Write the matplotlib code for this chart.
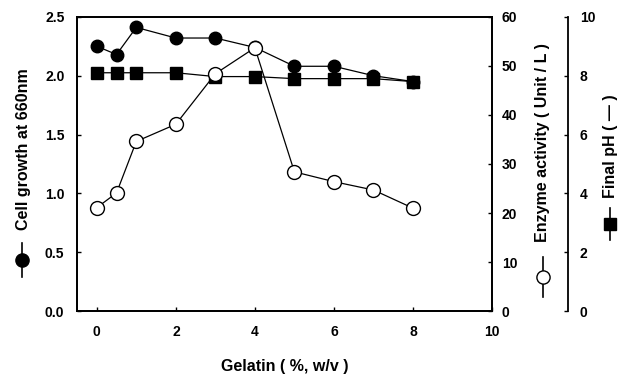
import matplotlib
matplotlib.use("Agg")
import matplotlib.pyplot as plt
from matplotlib.lines import Line2D

plt.rcParams['font.family'] = ['Liberation Sans', 'DejaVu Sans']
plt.rcParams['font.weight'] = 'bold'

gelatin = [0, 0.5, 1, 2, 3, 4, 5, 6, 7, 8]
cell_growth = [2.25, 2.18, 2.41, 2.32, 2.32, 2.24, 2.08, 2.08, 2.0, 1.95]
enzyme = [21.1, 24.1, 34.6, 38.1, 48.4, 53.7, 28.4, 26.4, 24.7, 21.0]
final_ph = [8.1, 8.1, 8.1, 8.1, 7.97, 7.97, 7.9, 7.9, 7.9, 7.8]

fig = plt.figure(figsize=(6.26, 3.74), dpi=100)
ax = fig.add_axes([0.123, 0.168, 0.663, 0.787])
ax_ph = ax.twinx()
ax_enz = ax.twinx()

ax.plot(gelatin, cell_growth, color='black', lw=0.9, marker='o', ms=9,
        mfc='black', mec='black')
ax_ph.plot(gelatin, final_ph, color='black', lw=0.9, marker='s', ms=9,
           mfc='black', mec='black')
ax_enz.plot(gelatin, enzyme, color='black', lw=0.9, marker='o', ms=10,
            mfc='white', mec='black', mew=1.0)

ax.set_xlim(-0.5, 10)
ax.set_ylim(0, 2.5)
ax.set_xticks([0, 2, 4, 6, 8, 10])
ax.set_yticks([0.0, 0.5, 1.0, 1.5, 2.0, 2.5])
ax.set_yticklabels(['0.0', '0.5', '1.0', '1.5', '2.0', '2.5'])
ax_enz.set_ylim(0, 60)
ax_enz.set_yticks(range(0, 61, 10))
ax_ph.set_ylim(0, 10)
ax_ph.set_yticks(range(0, 11, 2))

ax_ph.spines['right'].set_position(('axes', 1.183))
for s in ['top', 'left', 'bottom']:
    ax_ph.spines[s].set_visible(False)

for a in (ax, ax_ph, ax_enz):
    a.tick_params(direction='in', length=3, width=1, labelsize=10)
    for sp in a.spines.values():
        sp.set_linewidth(1.3)
ax.tick_params(axis='y', pad=9)
ax.tick_params(axis='x', pad=10)
ax_enz.tick_params(axis='y', pad=7)
ax_ph.tick_params(axis='y', pad=8.5)

ax.set_xlabel('Gelatin ( %, w/v )', fontsize=11.5, fontweight='bold', labelpad=14)

# axis titles with their series symbols
fig.text(0.037, 0.6, 'Cell growth at 660nm', rotation=90, fontsize=11.5,
         fontweight='bold', ha='center', va='center')
fig.text(0.867, 0.618, 'Enzyme activity ( Unit / L )', rotation=90, fontsize=11.5,
         fontweight='bold', ha='center', va='center')
fig.text(0.975, 0.61, 'Final pH ( \u2014 )', rotation=90, fontsize=11.5,
         fontweight='bold', ha='center', va='center')

symbols = [
    (0.035, 0.350, 0.259, 'o', 'black', 9.5),
    (0.867, 0.313, 0.206, 'o', 'white', 9.5),
    (0.975, 0.444, 0.358, 's', 'black', 8.5),
]
for x, y0, y1, m, fc, ms in symbols:
    fig.add_artist(Line2D([x, x], [y0, y1], transform=fig.transFigure,
                          color='black', lw=1.2))
    fig.add_artist(Line2D([x], [(y0 + y1) / 2], transform=fig.transFigure,
                          marker=m, ms=ms, mfc=fc, mec='black', mew=1.0,
                          color='black'))

fig.savefig('out.png', dpi=100)
